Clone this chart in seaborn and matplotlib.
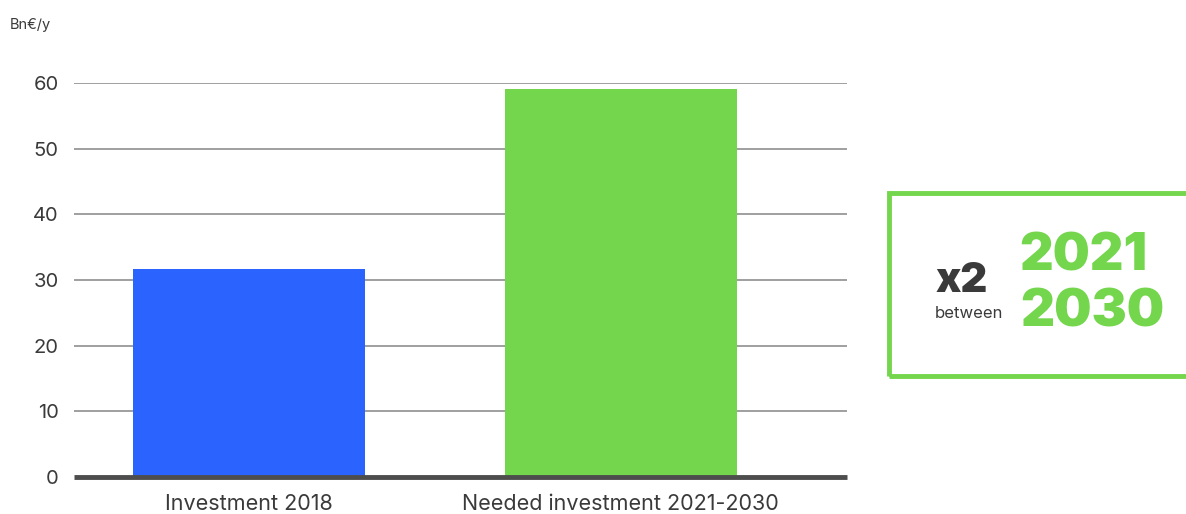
import matplotlib
matplotlib.use("Agg")
import matplotlib.pyplot as plt
import matplotlib.patches as mpatches
import seaborn as sns
import pandas as pd

categories = ["Investment 2018", "Needed investment 2021-2030"]
values = [31.7, 59.1]
colors = ["#2B63FF", "#74D64C"]
y_ticks = [0, 10, 20, 30, 40, 50, 60]

sns.set_theme(style="white")
plt.rcParams["font.family"] = ["Inter", "DejaVu Sans"]

df = pd.DataFrame({"category": categories, "value": values})

fig = plt.figure(figsize=(11.86, 5.14), dpi=100)
ax = fig.add_axes([74 / 1186, 1 - 477 / 514, (847 - 74) / 1186, (477 - 83) / 514])

sns.barplot(data=df, x="category", y="value", hue="category",
            palette=dict(zip(categories, colors)), width=0.624,
            saturation=1, legend=False, ax=ax, zorder=3, linewidth=0)

ax.set_xlim(-0.47, 1.608)
ax.set_ylim(0, 60)
ax.set_yticks(y_ticks)
ax.set_yticklabels([str(t) for t in y_ticks])
for t in y_ticks[1:]:
    ax.axhline(t, color="#8f8f8f", lw=1.2, zorder=1)
ax.axhline(0, color="#4d4d4d", lw=3.5, zorder=4, clip_on=False,
           solid_capstyle="butt")

for s in ax.spines.values():
    s.set_visible(False)
ax.tick_params(axis="y", length=0, pad=11, labelsize=14.5, labelcolor="#3a3a3a")
ax.tick_params(axis="x", length=0, pad=12, labelsize=15.5, labelcolor="#3a3a3a")
ax.set_xlabel("")
ax.set_ylabel("")

fig.text(10 / 1186, 1 - 25 / 514, "Bn€/y", fontsize=10.5, color="#3a3a3a",
         va="center", ha="left")

# callout box on the right
box = mpatches.Rectangle((889 / 1186, 1 - 376 / 514), 320 / 1186, (376 - 193) / 514,
                         transform=fig.transFigure, fill=False,
                         edgecolor="#74D64C", lw=3.5, clip_on=False,
                         joinstyle="miter")
fig.add_artist(box)

fig.text(962 / 1186, 1 - 281 / 514, "x2", fontsize=30, fontweight="black",
         color="#3a3a3a", ha="center", va="center")
fig.text(969 / 1186, 1 - 313 / 514, "between", fontsize=12,
         color="#3a3a3a", ha="center", va="center")
fig.text(1083 / 1186, 1 - 257 / 514, "2021", fontsize=37.5, fontweight="black",
         color="#74D64C", ha="center", va="center")
fig.text(1092 / 1186, 1 - 313 / 514, "2030", fontsize=38, fontweight="black",
         color="#74D64C", ha="center", va="center")

fig.savefig("out.png", dpi=100)
